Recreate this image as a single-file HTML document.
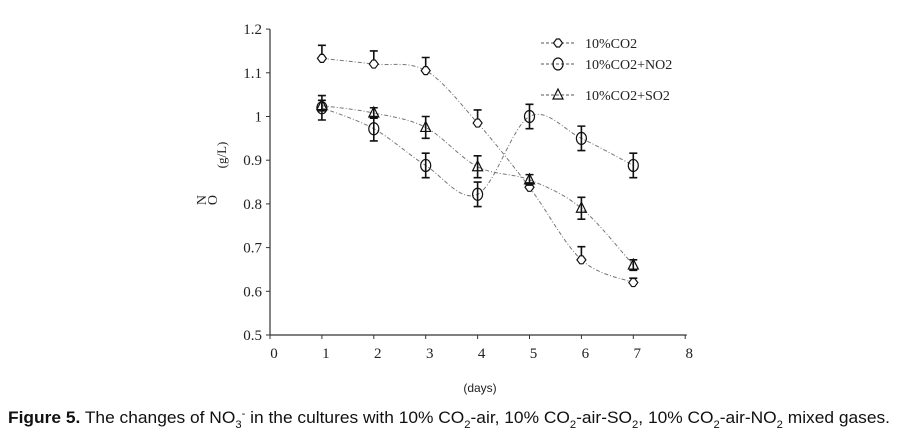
<!DOCTYPE html>
<html><head><meta charset="utf-8"><style>
body{margin:0;background:#fff;}
svg{display:block;font-family:"Liberation Serif",serif;}
</style></head><body>
<svg id="chart" width="897" height="435" viewBox="0 0 897 435">
<g id="axes"></g>
<g id="series"></g>
<g id="legend"></g>
<text transform="translate(206,200) rotate(-90)" text-anchor="middle" font-size="14" fill="#222">N</text>
<text transform="translate(217,200) rotate(-90)" text-anchor="middle" font-size="14" fill="#222">O</text>
<text transform="translate(226,155) rotate(-90)" text-anchor="middle" font-size="13" fill="#222">(g/L)</text>
<text x="480" y="392" text-anchor="middle" font-family="Liberation Sans, sans-serif" font-size="12" fill="#222">(days)</text>
<text x="8" y="423" font-family="Liberation Sans, sans-serif" font-size="17" fill="#111" textLength="882" lengthAdjust="spacingAndGlyphs"><tspan font-weight="bold">Figure 5.</tspan> The changes of NO<tspan font-size="11" dy="5">3</tspan><tspan font-size="11" dy="-11">-</tspan><tspan dy="6"> in the cultures with 10% CO</tspan><tspan font-size="11" dy="5">2</tspan><tspan dy="-5">-air, 10% CO</tspan><tspan font-size="11" dy="5">2</tspan><tspan dy="-5">-air-SO</tspan><tspan font-size="11" dy="5">2</tspan><tspan dy="-5">, 10% CO</tspan><tspan font-size="11" dy="5">2</tspan><tspan dy="-5">-air-NO</tspan><tspan font-size="11" dy="5">2</tspan><tspan dy="-5"> mixed gases.</tspan></text>
</svg>
<script>
const days = [1,2,3,4,5,6,7];
const xTicks = [0,1,2,3,4,5,6,7,8];
const yTicks = [0.5,0.6,0.7,0.8,0.9,1.0,1.1,1.2];
const yTickLabels = ["0.5","0.6","0.7","0.8","0.9","1","1.1","1.2"];
const seriesNames = ["10%CO2","10%CO2+NO2","10%CO2+SO2"];
const co2Values = [1.133,1.12,1.105,0.985,0.838,0.672,0.62];
const co2Err = [0.03,0.03,0.03,0.03,0.01,0.03,0.01];
const no2Values = [1.02,0.972,0.888,0.822,1.0,0.95,0.888];
const no2Err = [0.028,0.028,0.028,0.028,0.028,0.028,0.028];
const so2Values = [1.025,1.008,0.975,0.885,0.855,0.79,0.66];
const so2Err = [0.012,0.012,0.025,0.025,0.012,0.025,0.012];

const NS="http://www.w3.org/2000/svg";
const X0=270, XS=51.9, Y0=335, YS=437;
const sx=v=>X0+v*XS, sy=v=>Y0-(v-0.5)*YS;
function mk(tag,attrs,parent){const e=document.createElementNS(NS,tag);for(const k in attrs)e.setAttribute(k,attrs[k]);parent.appendChild(e);return e;}
const axes=document.getElementById('axes');
let e=mk('line',{x1:sx(0),y1:sy(0.5),x2:sx(8.03),y2:sy(0.5),stroke:'#333','stroke-width':1.2},axes);


e=mk('line',{x1:sx(0),y1:sy(0.5),x2:sx(0),y2:sy(1.2),stroke:'#333','stroke-width':1.2},axes);


yTicks.forEach((t,i)=>{
  mk('line',{x1:sx(0)-4,y1:sy(t),x2:sx(0),y2:sy(t),stroke:'#333'},axes);
  const tx=mk('text',{x:sx(0)-8,y:sy(t)+5,'text-anchor':'end','font-size':15,fill:'#222'},axes);
  tx.textContent=yTickLabels[i];
  
  
});
xTicks.forEach(t=>{
  mk('line',{x1:sx(t),y1:sy(0.5),x2:sx(t),y2:sy(0.5)+4,stroke:'#333'},axes);
  const tx=mk('text',{x:sx(t)+4,y:358,'text-anchor':'middle','font-size':15,fill:'#222'},axes);
  tx.textContent=String(t);
  
  
});
function smooth(pts){let d=`M${pts[0][0]},${pts[0][1]}`;for(let i=0;i<pts.length-1;i++){const p0=pts[i-1]||pts[i],p1=pts[i],p2=pts[i+1],p3=pts[i+2]||p2;const c1=[p1[0]+(p2[0]-p0[0])/6,p1[1]+(p2[1]-p0[1])/6],c2=[p2[0]-(p3[0]-p1[0])/6,p2[1]-(p3[1]-p1[1])/6];d+=` C${c1[0]},${c1[1]} ${c2[0]},${c2[1]} ${p2[0]},${p2[1]}`;}return d;}
function marker(type,x,y,g){
  if(type==='diamond')return mk('path',{d:`M${x-4.5},${y} L${x-1.5},${y-4} L${x+1.5},${y-4} L${x+4.5},${y} L${x+1.5},${y+4} L${x-1.5},${y+4} Z`,fill:'#fff',stroke:'#111','stroke-width':1.2},g);
  if(type==='circle')return mk('ellipse',{cx:x,cy:y,rx:5,ry:6,fill:'none',stroke:'#111','stroke-width':1.2},g);
  return mk('path',{d:`M${x},${y-6} L${x+5},${y+4} L${x-5},${y+4} Z`,fill:'none',stroke:'#111','stroke-width':1.2},g);
}
const ser=document.getElementById('series');
const all=[[co2Values,co2Err,'diamond','co2'],[no2Values,no2Err,'circle','no2'],[so2Values,so2Err,'triangle','so2']];
all.forEach(([vals,errs,type,key],si)=>{
  const g=mk('g',{},ser);
  
  
  const pts=days.map((d,i)=>[sx(d),sy(vals[i])]);
  const ln=mk('path',{d:smooth(pts),fill:'none',stroke:'#777','stroke-width':1,'stroke-dasharray':'4,2,1,2'},g);
  
  
  days.forEach((d,i)=>{
    const x=sx(d),v=vals[i],er=errs[i];
    const lo=type==='diamond'?v:v-er;
    const eb=mk('path',{d:`M${x},${sy(v+er)} L${x},${sy(lo)} M${x-4},${sy(v+er)} L${x+4},${sy(v+er)} M${x-4},${sy(lo)} L${x+4},${sy(lo)}`,stroke:'#111','stroke-width':1.6,fill:'none'},g);
    
    
    const m=marker(type,x,sy(v),g);
    
    
  });
});
const leg=document.getElementById('legend');
const ly=[43,64,95];
['diamond','circle','triangle'].forEach((t,i)=>{
  const g=mk('g',{},leg);
  
  
  mk('line',{x1:541,y1:ly[i],x2:576,y2:ly[i],stroke:'#555','stroke-dasharray':'3,2'},g);
  marker(t,558,ly[i],g);
  const tx=mk('text',{x:585,y:ly[i]+5,'font-size':14,fill:'#222'},g);
  tx.textContent=seriesNames[i];
});
</script>
</body></html>
